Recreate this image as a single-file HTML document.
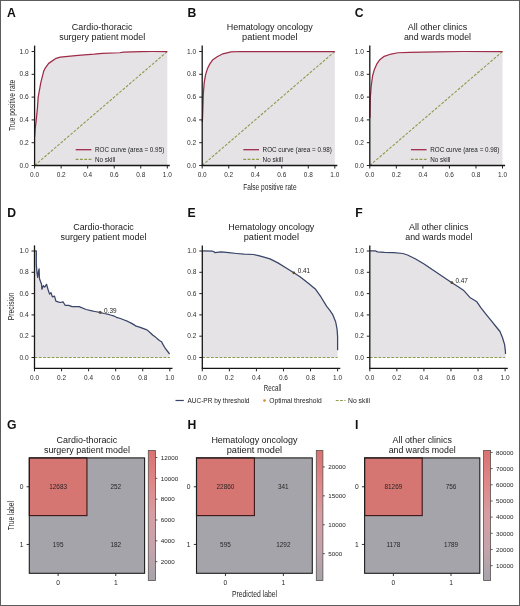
<!DOCTYPE html>
<html><head><meta charset="utf-8"><style>
html,body{margin:0;padding:0;background:#fff;}
svg{display:block;font-family:"Liberation Sans", sans-serif;will-change:transform;}
</style></head><body>
<svg width="520" height="606" viewBox="0 0 520 606">
<rect width="520" height="606" fill="#fff"/>
<rect x="0.5" y="0.5" width="519" height="605" fill="none" stroke="#5c5c5c" stroke-width="1"/>
<polyline points="34.60,165.50 34.60,154.10 34.60,137.00 35.13,129.02 36.01,122.29 37.39,108.61 38.18,97.10 40.80,82.62 43.70,71.11 45.40,67.80 48.67,63.36 56.10,58.34 60.21,57.09 72.95,55.83 81.05,55.15 94.32,54.24 102.28,53.44 119.53,52.75 123.51,52.18 140.76,51.73 152.70,51.50 167.30,51.50 167.30,165.50 34.60,165.50" fill="#e5e3e6" stroke="none" stroke-width="1.0" stroke-linejoin="round"/>
<line x1="34.60" y1="165.50" x2="167.30" y2="51.50" stroke="#8e9a4c" stroke-width="1.1" stroke-dasharray="2.8 1.5"/>
<polyline points="34.60,137.00 35.13,129.02 36.01,122.29 37.39,108.61 38.18,97.10 40.80,82.62 43.70,71.11 45.40,67.80 48.67,63.36 56.10,58.34 60.21,57.09 72.95,55.83 81.05,55.15 94.32,54.24 102.28,53.44 119.53,52.75 123.51,52.18 140.76,51.73 152.70,51.50 167.30,51.50" fill="none" stroke="#9e2b48" stroke-width="1.25" stroke-linejoin="round"/>
<line x1="34.60" y1="45.60" x2="34.60" y2="165.50" stroke="#161616" stroke-width="1.3"/>
<line x1="33.95" y1="165.50" x2="169.80" y2="165.50" stroke="#161616" stroke-width="1.3"/>
<line x1="34.60" y1="165.50" x2="34.60" y2="168.50" stroke="#222" stroke-width="1.0"/>
<text transform="translate(34.60 177.40) scale(0.9249 1)" x="0" y="0" font-size="7.0" text-anchor="middle" fill="#2e2e2e" font-weight="normal">0.0</text>
<line x1="61.14" y1="165.50" x2="61.14" y2="168.50" stroke="#222" stroke-width="1.0"/>
<text transform="translate(61.14 177.40) scale(0.9249 1)" x="0" y="0" font-size="7.0" text-anchor="middle" fill="#2e2e2e" font-weight="normal">0.2</text>
<line x1="87.68" y1="165.50" x2="87.68" y2="168.50" stroke="#222" stroke-width="1.0"/>
<text transform="translate(87.68 177.40) scale(0.9249 1)" x="0" y="0" font-size="7.0" text-anchor="middle" fill="#2e2e2e" font-weight="normal">0.4</text>
<line x1="114.22" y1="165.50" x2="114.22" y2="168.50" stroke="#222" stroke-width="1.0"/>
<text transform="translate(114.22 177.40) scale(0.9249 1)" x="0" y="0" font-size="7.0" text-anchor="middle" fill="#2e2e2e" font-weight="normal">0.6</text>
<line x1="140.76" y1="165.50" x2="140.76" y2="168.50" stroke="#222" stroke-width="1.0"/>
<text transform="translate(140.76 177.40) scale(0.9249 1)" x="0" y="0" font-size="7.0" text-anchor="middle" fill="#2e2e2e" font-weight="normal">0.8</text>
<line x1="167.30" y1="165.50" x2="167.30" y2="168.50" stroke="#222" stroke-width="1.0"/>
<text transform="translate(167.30 177.40) scale(0.9249 1)" x="0" y="0" font-size="7.0" text-anchor="middle" fill="#2e2e2e" font-weight="normal">1.0</text>
<line x1="31.60" y1="165.50" x2="34.60" y2="165.50" stroke="#222" stroke-width="1.0"/>
<text transform="translate(28.70 167.60) scale(0.9454 1)" x="0" y="0" font-size="7.0" text-anchor="end" fill="#2e2e2e" font-weight="normal">0.0</text>
<line x1="31.60" y1="142.70" x2="34.60" y2="142.70" stroke="#222" stroke-width="1.0"/>
<text transform="translate(28.70 144.80) scale(0.9454 1)" x="0" y="0" font-size="7.0" text-anchor="end" fill="#2e2e2e" font-weight="normal">0.2</text>
<line x1="31.60" y1="119.90" x2="34.60" y2="119.90" stroke="#222" stroke-width="1.0"/>
<text transform="translate(28.70 122.00) scale(0.9454 1)" x="0" y="0" font-size="7.0" text-anchor="end" fill="#2e2e2e" font-weight="normal">0.4</text>
<line x1="31.60" y1="97.10" x2="34.60" y2="97.10" stroke="#222" stroke-width="1.0"/>
<text transform="translate(28.70 99.20) scale(0.9454 1)" x="0" y="0" font-size="7.0" text-anchor="end" fill="#2e2e2e" font-weight="normal">0.6</text>
<line x1="31.60" y1="74.30" x2="34.60" y2="74.30" stroke="#222" stroke-width="1.0"/>
<text transform="translate(28.70 76.40) scale(0.9454 1)" x="0" y="0" font-size="7.0" text-anchor="end" fill="#2e2e2e" font-weight="normal">0.8</text>
<line x1="31.60" y1="51.50" x2="34.60" y2="51.50" stroke="#222" stroke-width="1.0"/>
<text transform="translate(28.70 53.60) scale(0.9454 1)" x="0" y="0" font-size="7.0" text-anchor="end" fill="#2e2e2e" font-weight="normal">1.0</text>
<text x="7.00" y="16.50" font-size="12.2" text-anchor="start" fill="#111" font-weight="bold">A</text>
<text transform="translate(102.20 30.20) scale(0.9854 1)" x="0" y="0" font-size="9.1" text-anchor="middle" fill="#181818" font-weight="normal">Cardio-thoracic</text>
<text transform="translate(102.20 40.10) scale(0.9862 1)" x="0" y="0" font-size="9.1" text-anchor="middle" fill="#181818" font-weight="normal">surgery patient model</text>
<line x1="75.70" y1="149.70" x2="91.40" y2="149.70" stroke="#9e2b48" stroke-width="1.3"/>
<line x1="75.70" y1="159.40" x2="91.40" y2="159.40" stroke="#8e9a4c" stroke-width="1.1" stroke-dasharray="2.8 1.5"/>
<text transform="translate(95.00 151.90) scale(1.0036 1)" x="0" y="0" font-size="6.3" text-anchor="start" fill="#222" font-weight="normal">ROC curve (area = 0.95)</text>
<text x="95.00" y="161.80" font-size="6.3" text-anchor="start" fill="#222" font-weight="normal">No skill</text>
<polyline points="202.20,165.50 202.20,131.30 202.33,122.18 202.73,112.72 203.30,94.25 204.20,82.62 205.59,74.64 207.40,68.83 209.71,64.15 212.50,60.05 217.18,56.74 222.89,53.78 230.97,51.96 241.05,51.50 334.80,51.50 334.80,165.50 202.20,165.50" fill="#e5e3e6" stroke="none" stroke-width="1.0" stroke-linejoin="round"/>
<line x1="202.20" y1="165.50" x2="334.80" y2="51.50" stroke="#8e9a4c" stroke-width="1.1" stroke-dasharray="2.8 1.5"/>
<polyline points="202.33,122.18 202.73,112.72 203.30,94.25 204.20,82.62 205.59,74.64 207.40,68.83 209.71,64.15 212.50,60.05 217.18,56.74 222.89,53.78 230.97,51.96 241.05,51.50 334.80,51.50" fill="none" stroke="#9e2b48" stroke-width="1.25" stroke-linejoin="round"/>
<line x1="202.20" y1="45.60" x2="202.20" y2="165.50" stroke="#161616" stroke-width="1.3"/>
<line x1="201.55" y1="165.50" x2="337.30" y2="165.50" stroke="#161616" stroke-width="1.3"/>
<line x1="202.20" y1="165.50" x2="202.20" y2="168.50" stroke="#222" stroke-width="1.0"/>
<text transform="translate(202.20 177.40) scale(0.9249 1)" x="0" y="0" font-size="7.0" text-anchor="middle" fill="#2e2e2e" font-weight="normal">0.0</text>
<line x1="228.72" y1="165.50" x2="228.72" y2="168.50" stroke="#222" stroke-width="1.0"/>
<text transform="translate(228.72 177.40) scale(0.9249 1)" x="0" y="0" font-size="7.0" text-anchor="middle" fill="#2e2e2e" font-weight="normal">0.2</text>
<line x1="255.24" y1="165.50" x2="255.24" y2="168.50" stroke="#222" stroke-width="1.0"/>
<text transform="translate(255.24 177.40) scale(0.9249 1)" x="0" y="0" font-size="7.0" text-anchor="middle" fill="#2e2e2e" font-weight="normal">0.4</text>
<line x1="281.76" y1="165.50" x2="281.76" y2="168.50" stroke="#222" stroke-width="1.0"/>
<text transform="translate(281.76 177.40) scale(0.9249 1)" x="0" y="0" font-size="7.0" text-anchor="middle" fill="#2e2e2e" font-weight="normal">0.6</text>
<line x1="308.28" y1="165.50" x2="308.28" y2="168.50" stroke="#222" stroke-width="1.0"/>
<text transform="translate(308.28 177.40) scale(0.9249 1)" x="0" y="0" font-size="7.0" text-anchor="middle" fill="#2e2e2e" font-weight="normal">0.8</text>
<line x1="334.80" y1="165.50" x2="334.80" y2="168.50" stroke="#222" stroke-width="1.0"/>
<text transform="translate(334.80 177.40) scale(0.9249 1)" x="0" y="0" font-size="7.0" text-anchor="middle" fill="#2e2e2e" font-weight="normal">1.0</text>
<line x1="199.20" y1="165.50" x2="202.20" y2="165.50" stroke="#222" stroke-width="1.0"/>
<text transform="translate(196.30 167.60) scale(0.9454 1)" x="0" y="0" font-size="7.0" text-anchor="end" fill="#2e2e2e" font-weight="normal">0.0</text>
<line x1="199.20" y1="142.70" x2="202.20" y2="142.70" stroke="#222" stroke-width="1.0"/>
<text transform="translate(196.30 144.80) scale(0.9454 1)" x="0" y="0" font-size="7.0" text-anchor="end" fill="#2e2e2e" font-weight="normal">0.2</text>
<line x1="199.20" y1="119.90" x2="202.20" y2="119.90" stroke="#222" stroke-width="1.0"/>
<text transform="translate(196.30 122.00) scale(0.9454 1)" x="0" y="0" font-size="7.0" text-anchor="end" fill="#2e2e2e" font-weight="normal">0.4</text>
<line x1="199.20" y1="97.10" x2="202.20" y2="97.10" stroke="#222" stroke-width="1.0"/>
<text transform="translate(196.30 99.20) scale(0.9454 1)" x="0" y="0" font-size="7.0" text-anchor="end" fill="#2e2e2e" font-weight="normal">0.6</text>
<line x1="199.20" y1="74.30" x2="202.20" y2="74.30" stroke="#222" stroke-width="1.0"/>
<text transform="translate(196.30 76.40) scale(0.9454 1)" x="0" y="0" font-size="7.0" text-anchor="end" fill="#2e2e2e" font-weight="normal">0.8</text>
<line x1="199.20" y1="51.50" x2="202.20" y2="51.50" stroke="#222" stroke-width="1.0"/>
<text transform="translate(196.30 53.60) scale(0.9454 1)" x="0" y="0" font-size="7.0" text-anchor="end" fill="#2e2e2e" font-weight="normal">1.0</text>
<text x="187.60" y="16.50" font-size="12.2" text-anchor="start" fill="#111" font-weight="bold">B</text>
<text transform="translate(269.75 30.20) scale(0.9850 1)" x="0" y="0" font-size="9.1" text-anchor="middle" fill="#181818" font-weight="normal">Hematology oncology</text>
<text transform="translate(269.75 40.10) scale(1.0140 1)" x="0" y="0" font-size="9.1" text-anchor="middle" fill="#181818" font-weight="normal">patient model</text>
<line x1="243.30" y1="149.70" x2="259.00" y2="149.70" stroke="#9e2b48" stroke-width="1.3"/>
<line x1="243.30" y1="159.40" x2="259.00" y2="159.40" stroke="#8e9a4c" stroke-width="1.1" stroke-dasharray="2.8 1.5"/>
<text transform="translate(262.60 151.90) scale(1.0036 1)" x="0" y="0" font-size="6.3" text-anchor="start" fill="#222" font-weight="normal">ROC curve (area = 0.98)</text>
<text x="262.60" y="161.80" font-size="6.3" text-anchor="start" fill="#222" font-weight="normal">No skill</text>
<polyline points="369.80,165.50 369.80,131.30 369.93,117.62 370.07,108.50 370.30,97.67 371.21,86.04 372.60,75.78 374.40,69.40 376.70,64.15 379.49,60.05 384.20,56.29 391.03,54.01 398.00,52.75 409.61,52.41 435.75,51.96 462.69,51.50 502.50,51.50 502.50,165.50 369.80,165.50" fill="#e5e3e6" stroke="none" stroke-width="1.0" stroke-linejoin="round"/>
<line x1="369.80" y1="165.50" x2="502.50" y2="51.50" stroke="#8e9a4c" stroke-width="1.1" stroke-dasharray="2.8 1.5"/>
<polyline points="369.93,117.62 370.07,108.50 370.30,97.67 371.21,86.04 372.60,75.78 374.40,69.40 376.70,64.15 379.49,60.05 384.20,56.29 391.03,54.01 398.00,52.75 409.61,52.41 435.75,51.96 462.69,51.50 502.50,51.50" fill="none" stroke="#9e2b48" stroke-width="1.25" stroke-linejoin="round"/>
<line x1="369.80" y1="45.60" x2="369.80" y2="165.50" stroke="#161616" stroke-width="1.3"/>
<line x1="369.15" y1="165.50" x2="505.10" y2="165.50" stroke="#161616" stroke-width="1.3"/>
<line x1="369.80" y1="165.50" x2="369.80" y2="168.50" stroke="#222" stroke-width="1.0"/>
<text transform="translate(369.80 177.40) scale(0.9249 1)" x="0" y="0" font-size="7.0" text-anchor="middle" fill="#2e2e2e" font-weight="normal">0.0</text>
<line x1="396.34" y1="165.50" x2="396.34" y2="168.50" stroke="#222" stroke-width="1.0"/>
<text transform="translate(396.34 177.40) scale(0.9249 1)" x="0" y="0" font-size="7.0" text-anchor="middle" fill="#2e2e2e" font-weight="normal">0.2</text>
<line x1="422.88" y1="165.50" x2="422.88" y2="168.50" stroke="#222" stroke-width="1.0"/>
<text transform="translate(422.88 177.40) scale(0.9249 1)" x="0" y="0" font-size="7.0" text-anchor="middle" fill="#2e2e2e" font-weight="normal">0.4</text>
<line x1="449.42" y1="165.50" x2="449.42" y2="168.50" stroke="#222" stroke-width="1.0"/>
<text transform="translate(449.42 177.40) scale(0.9249 1)" x="0" y="0" font-size="7.0" text-anchor="middle" fill="#2e2e2e" font-weight="normal">0.6</text>
<line x1="475.96" y1="165.50" x2="475.96" y2="168.50" stroke="#222" stroke-width="1.0"/>
<text transform="translate(475.96 177.40) scale(0.9249 1)" x="0" y="0" font-size="7.0" text-anchor="middle" fill="#2e2e2e" font-weight="normal">0.8</text>
<line x1="502.50" y1="165.50" x2="502.50" y2="168.50" stroke="#222" stroke-width="1.0"/>
<text transform="translate(502.50 177.40) scale(0.9249 1)" x="0" y="0" font-size="7.0" text-anchor="middle" fill="#2e2e2e" font-weight="normal">1.0</text>
<line x1="366.80" y1="165.50" x2="369.80" y2="165.50" stroke="#222" stroke-width="1.0"/>
<text transform="translate(363.90 167.60) scale(0.9454 1)" x="0" y="0" font-size="7.0" text-anchor="end" fill="#2e2e2e" font-weight="normal">0.0</text>
<line x1="366.80" y1="142.70" x2="369.80" y2="142.70" stroke="#222" stroke-width="1.0"/>
<text transform="translate(363.90 144.80) scale(0.9454 1)" x="0" y="0" font-size="7.0" text-anchor="end" fill="#2e2e2e" font-weight="normal">0.2</text>
<line x1="366.80" y1="119.90" x2="369.80" y2="119.90" stroke="#222" stroke-width="1.0"/>
<text transform="translate(363.90 122.00) scale(0.9454 1)" x="0" y="0" font-size="7.0" text-anchor="end" fill="#2e2e2e" font-weight="normal">0.4</text>
<line x1="366.80" y1="97.10" x2="369.80" y2="97.10" stroke="#222" stroke-width="1.0"/>
<text transform="translate(363.90 99.20) scale(0.9454 1)" x="0" y="0" font-size="7.0" text-anchor="end" fill="#2e2e2e" font-weight="normal">0.6</text>
<line x1="366.80" y1="74.30" x2="369.80" y2="74.30" stroke="#222" stroke-width="1.0"/>
<text transform="translate(363.90 76.40) scale(0.9454 1)" x="0" y="0" font-size="7.0" text-anchor="end" fill="#2e2e2e" font-weight="normal">0.8</text>
<line x1="366.80" y1="51.50" x2="369.80" y2="51.50" stroke="#222" stroke-width="1.0"/>
<text transform="translate(363.90 53.60) scale(0.9454 1)" x="0" y="0" font-size="7.0" text-anchor="end" fill="#2e2e2e" font-weight="normal">1.0</text>
<text x="354.80" y="16.50" font-size="12.2" text-anchor="start" fill="#111" font-weight="bold">C</text>
<text transform="translate(437.45 30.20) scale(0.9788 1)" x="0" y="0" font-size="9.1" text-anchor="middle" fill="#181818" font-weight="normal">All other clinics</text>
<text transform="translate(437.45 40.10) scale(0.9697 1)" x="0" y="0" font-size="9.1" text-anchor="middle" fill="#181818" font-weight="normal">and wards model</text>
<line x1="410.90" y1="149.70" x2="426.60" y2="149.70" stroke="#9e2b48" stroke-width="1.3"/>
<line x1="410.90" y1="159.40" x2="426.60" y2="159.40" stroke="#8e9a4c" stroke-width="1.1" stroke-dasharray="2.8 1.5"/>
<text transform="translate(430.20 151.90) scale(1.0036 1)" x="0" y="0" font-size="6.3" text-anchor="start" fill="#222" font-weight="normal">ROC curve (area = 0.98)</text>
<text x="430.20" y="161.80" font-size="6.3" text-anchor="start" fill="#222" font-weight="normal">No skill</text>
<text x="0.00" y="0.00" font-size="8.8" text-anchor="middle" fill="#262626" font-weight="normal" transform="translate(14.6 105.4) rotate(-90) scale(0.7567 1)">True positive rate</text>
<text transform="translate(269.90 189.50) scale(0.7492 1)" x="0" y="0" font-size="8.8" text-anchor="middle" fill="#262626" font-weight="normal">False positive rate</text>
<polyline points="34.60,251.00 35.30,250.90 36.30,250.90 36.30,264.60 37.00,273.00 37.70,277.30 38.40,271.60 39.10,268.80 39.50,278.70 40.50,281.50 41.50,284.30 41.90,289.20 43.30,285.70 44.70,287.10 46.50,284.30 48.20,290.00 49.60,294.10 51.00,292.70 52.40,296.90 54.50,296.20 55.90,301.10 58.00,301.80 60.20,302.50 63.00,301.80 65.10,305.30 68.60,305.30 72.10,306.70 79.10,306.70 86.10,309.50 93.10,311.20 95.00,311.50 99.60,312.30 104.20,313.50 107.30,314.20 110.40,315.00 113.50,315.80 116.50,317.30 120.40,318.50 124.20,320.00 127.30,321.20 131.20,323.10 135.00,325.40 136.10,326.20 139.50,327.10 145.60,329.30 147.30,330.10 150.80,333.20 152.90,335.30 155.50,337.10 159.40,340.50 161.60,341.80 162.90,344.40 165.50,348.70 169.60,354.00 169.60,357.50 34.50,357.50" fill="#e5e3e6" stroke="none" stroke-width="1.0" stroke-linejoin="round"/>
<line x1="34.50" y1="357.50" x2="169.80" y2="357.50" stroke="#8e9a4c" stroke-width="1.1" stroke-dasharray="2.8 1.5"/>
<polyline points="34.60,251.00 35.30,250.90 36.30,250.90 36.30,264.60 37.00,273.00 37.70,277.30 38.40,271.60 39.10,268.80 39.50,278.70 40.50,281.50 41.50,284.30 41.90,289.20 43.30,285.70 44.70,287.10 46.50,284.30 48.20,290.00 49.60,294.10 51.00,292.70 52.40,296.90 54.50,296.20 55.90,301.10 58.00,301.80 60.20,302.50 63.00,301.80 65.10,305.30 68.60,305.30 72.10,306.70 79.10,306.70 86.10,309.50 93.10,311.20 95.00,311.50 99.60,312.30 104.20,313.50 107.30,314.20 110.40,315.00 113.50,315.80 116.50,317.30 120.40,318.50 124.20,320.00 127.30,321.20 131.20,323.10 135.00,325.40 136.10,326.20 139.50,327.10 145.60,329.30 147.30,330.10 150.80,333.20 152.90,335.30 155.50,337.10 159.40,340.50 161.60,341.80 162.90,344.40 165.50,348.70 169.60,354.00" fill="none" stroke="#384468" stroke-width="1.25" stroke-linejoin="round"/>
<circle cx="100.2" cy="312.5" r="1.4" fill="#5a4a32"/>
<text x="104.10" y="312.70" font-size="6.4" text-anchor="start" fill="#222" font-weight="normal">0.39</text>
<line x1="34.50" y1="245.40" x2="34.50" y2="368.30" stroke="#161616" stroke-width="1.3"/>
<line x1="33.85" y1="368.30" x2="172.50" y2="368.30" stroke="#161616" stroke-width="1.3"/>
<line x1="34.50" y1="368.30" x2="34.50" y2="371.30" stroke="#222" stroke-width="1.0"/>
<text transform="translate(34.50 379.80) scale(0.9249 1)" x="0" y="0" font-size="7.0" text-anchor="middle" fill="#2e2e2e" font-weight="normal">0.0</text>
<line x1="61.56" y1="368.30" x2="61.56" y2="371.30" stroke="#222" stroke-width="1.0"/>
<text transform="translate(61.56 379.80) scale(0.9249 1)" x="0" y="0" font-size="7.0" text-anchor="middle" fill="#2e2e2e" font-weight="normal">0.2</text>
<line x1="88.62" y1="368.30" x2="88.62" y2="371.30" stroke="#222" stroke-width="1.0"/>
<text transform="translate(88.62 379.80) scale(0.9249 1)" x="0" y="0" font-size="7.0" text-anchor="middle" fill="#2e2e2e" font-weight="normal">0.4</text>
<line x1="115.68" y1="368.30" x2="115.68" y2="371.30" stroke="#222" stroke-width="1.0"/>
<text transform="translate(115.68 379.80) scale(0.9249 1)" x="0" y="0" font-size="7.0" text-anchor="middle" fill="#2e2e2e" font-weight="normal">0.6</text>
<line x1="142.74" y1="368.30" x2="142.74" y2="371.30" stroke="#222" stroke-width="1.0"/>
<text transform="translate(142.74 379.80) scale(0.9249 1)" x="0" y="0" font-size="7.0" text-anchor="middle" fill="#2e2e2e" font-weight="normal">0.8</text>
<line x1="169.80" y1="368.30" x2="169.80" y2="371.30" stroke="#222" stroke-width="1.0"/>
<text transform="translate(169.80 379.80) scale(0.9249 1)" x="0" y="0" font-size="7.0" text-anchor="middle" fill="#2e2e2e" font-weight="normal">1.0</text>
<line x1="31.50" y1="357.50" x2="34.50" y2="357.50" stroke="#222" stroke-width="1.0"/>
<text transform="translate(28.60 359.60) scale(0.9454 1)" x="0" y="0" font-size="7.0" text-anchor="end" fill="#2e2e2e" font-weight="normal">0.0</text>
<line x1="31.50" y1="336.20" x2="34.50" y2="336.20" stroke="#222" stroke-width="1.0"/>
<text transform="translate(28.60 338.30) scale(0.9454 1)" x="0" y="0" font-size="7.0" text-anchor="end" fill="#2e2e2e" font-weight="normal">0.2</text>
<line x1="31.50" y1="314.90" x2="34.50" y2="314.90" stroke="#222" stroke-width="1.0"/>
<text transform="translate(28.60 317.00) scale(0.9454 1)" x="0" y="0" font-size="7.0" text-anchor="end" fill="#2e2e2e" font-weight="normal">0.4</text>
<line x1="31.50" y1="293.60" x2="34.50" y2="293.60" stroke="#222" stroke-width="1.0"/>
<text transform="translate(28.60 295.70) scale(0.9454 1)" x="0" y="0" font-size="7.0" text-anchor="end" fill="#2e2e2e" font-weight="normal">0.6</text>
<line x1="31.50" y1="272.30" x2="34.50" y2="272.30" stroke="#222" stroke-width="1.0"/>
<text transform="translate(28.60 274.40) scale(0.9454 1)" x="0" y="0" font-size="7.0" text-anchor="end" fill="#2e2e2e" font-weight="normal">0.8</text>
<line x1="31.50" y1="251.00" x2="34.50" y2="251.00" stroke="#222" stroke-width="1.0"/>
<text transform="translate(28.60 253.10) scale(0.9454 1)" x="0" y="0" font-size="7.0" text-anchor="end" fill="#2e2e2e" font-weight="normal">1.0</text>
<text x="7.20" y="216.50" font-size="12.2" text-anchor="start" fill="#111" font-weight="bold">D</text>
<text transform="translate(103.50 230.40) scale(0.9854 1)" x="0" y="0" font-size="9.1" text-anchor="middle" fill="#181818" font-weight="normal">Cardio-thoracic</text>
<text transform="translate(103.50 240.40) scale(0.9862 1)" x="0" y="0" font-size="9.1" text-anchor="middle" fill="#181818" font-weight="normal">surgery patient model</text>
<polyline points="202.30,250.80 212.60,251.20 214.20,251.90 214.90,252.70 221.10,251.90 228.80,252.70 236.50,253.50 244.20,254.20 253.40,254.50 259.50,255.80 265.70,257.60 270.00,258.90 277.90,262.90 285.80,267.80 293.80,272.80 300.00,276.70 307.40,282.60 315.60,289.30 320.80,296.70 326.70,306.40 329.70,310.10 332.70,314.60 335.70,322.00 337.10,329.40 337.60,336.90 337.60,350.20 337.60,357.50 202.30,357.50" fill="#e5e3e6" stroke="none" stroke-width="1.0" stroke-linejoin="round"/>
<line x1="202.30" y1="357.50" x2="337.60" y2="357.50" stroke="#8e9a4c" stroke-width="1.1" stroke-dasharray="2.8 1.5"/>
<polyline points="202.30,250.80 212.60,251.20 214.20,251.90 214.90,252.70 221.10,251.90 228.80,252.70 236.50,253.50 244.20,254.20 253.40,254.50 259.50,255.80 265.70,257.60 270.00,258.90 277.90,262.90 285.80,267.80 293.80,272.80 300.00,276.70 307.40,282.60 315.60,289.30 320.80,296.70 326.70,306.40 329.70,310.10 332.70,314.60 335.70,322.00 337.10,329.40 337.60,336.90 337.60,350.20" fill="none" stroke="#384468" stroke-width="1.25" stroke-linejoin="round"/>
<circle cx="293.8" cy="272.8" r="1.4" fill="#5a4a32"/>
<text x="297.70" y="273.10" font-size="6.4" text-anchor="start" fill="#222" font-weight="normal">0.41</text>
<line x1="202.30" y1="245.40" x2="202.30" y2="368.30" stroke="#161616" stroke-width="1.3"/>
<line x1="201.65" y1="368.30" x2="340.30" y2="368.30" stroke="#161616" stroke-width="1.3"/>
<line x1="202.30" y1="368.30" x2="202.30" y2="371.30" stroke="#222" stroke-width="1.0"/>
<text transform="translate(202.30 379.80) scale(0.9249 1)" x="0" y="0" font-size="7.0" text-anchor="middle" fill="#2e2e2e" font-weight="normal">0.0</text>
<line x1="229.36" y1="368.30" x2="229.36" y2="371.30" stroke="#222" stroke-width="1.0"/>
<text transform="translate(229.36 379.80) scale(0.9249 1)" x="0" y="0" font-size="7.0" text-anchor="middle" fill="#2e2e2e" font-weight="normal">0.2</text>
<line x1="256.42" y1="368.30" x2="256.42" y2="371.30" stroke="#222" stroke-width="1.0"/>
<text transform="translate(256.42 379.80) scale(0.9249 1)" x="0" y="0" font-size="7.0" text-anchor="middle" fill="#2e2e2e" font-weight="normal">0.4</text>
<line x1="283.48" y1="368.30" x2="283.48" y2="371.30" stroke="#222" stroke-width="1.0"/>
<text transform="translate(283.48 379.80) scale(0.9249 1)" x="0" y="0" font-size="7.0" text-anchor="middle" fill="#2e2e2e" font-weight="normal">0.6</text>
<line x1="310.54" y1="368.30" x2="310.54" y2="371.30" stroke="#222" stroke-width="1.0"/>
<text transform="translate(310.54 379.80) scale(0.9249 1)" x="0" y="0" font-size="7.0" text-anchor="middle" fill="#2e2e2e" font-weight="normal">0.8</text>
<line x1="337.60" y1="368.30" x2="337.60" y2="371.30" stroke="#222" stroke-width="1.0"/>
<text transform="translate(337.60 379.80) scale(0.9249 1)" x="0" y="0" font-size="7.0" text-anchor="middle" fill="#2e2e2e" font-weight="normal">1.0</text>
<line x1="199.30" y1="357.50" x2="202.30" y2="357.50" stroke="#222" stroke-width="1.0"/>
<text transform="translate(196.40 359.60) scale(0.9454 1)" x="0" y="0" font-size="7.0" text-anchor="end" fill="#2e2e2e" font-weight="normal">0.0</text>
<line x1="199.30" y1="336.20" x2="202.30" y2="336.20" stroke="#222" stroke-width="1.0"/>
<text transform="translate(196.40 338.30) scale(0.9454 1)" x="0" y="0" font-size="7.0" text-anchor="end" fill="#2e2e2e" font-weight="normal">0.2</text>
<line x1="199.30" y1="314.90" x2="202.30" y2="314.90" stroke="#222" stroke-width="1.0"/>
<text transform="translate(196.40 317.00) scale(0.9454 1)" x="0" y="0" font-size="7.0" text-anchor="end" fill="#2e2e2e" font-weight="normal">0.4</text>
<line x1="199.30" y1="293.60" x2="202.30" y2="293.60" stroke="#222" stroke-width="1.0"/>
<text transform="translate(196.40 295.70) scale(0.9454 1)" x="0" y="0" font-size="7.0" text-anchor="end" fill="#2e2e2e" font-weight="normal">0.6</text>
<line x1="199.30" y1="272.30" x2="202.30" y2="272.30" stroke="#222" stroke-width="1.0"/>
<text transform="translate(196.40 274.40) scale(0.9454 1)" x="0" y="0" font-size="7.0" text-anchor="end" fill="#2e2e2e" font-weight="normal">0.8</text>
<line x1="199.30" y1="251.00" x2="202.30" y2="251.00" stroke="#222" stroke-width="1.0"/>
<text transform="translate(196.40 253.10) scale(0.9454 1)" x="0" y="0" font-size="7.0" text-anchor="end" fill="#2e2e2e" font-weight="normal">1.0</text>
<text x="187.60" y="216.50" font-size="12.2" text-anchor="start" fill="#111" font-weight="bold">E</text>
<text transform="translate(271.30 230.40) scale(0.9850 1)" x="0" y="0" font-size="9.1" text-anchor="middle" fill="#181818" font-weight="normal">Hematology oncology</text>
<text transform="translate(271.30 240.40) scale(1.0140 1)" x="0" y="0" font-size="9.1" text-anchor="middle" fill="#181818" font-weight="normal">patient model</text>
<polyline points="369.80,250.80 375.20,250.80 377.50,251.90 384.50,252.40 393.70,252.70 402.90,253.50 407.50,255.00 415.20,258.80 424.50,264.20 432.20,269.60 440.00,274.80 445.90,278.70 451.90,282.70 457.80,286.60 463.80,290.60 465.00,291.90 470.30,297.80 476.90,301.80 480.80,307.70 486.10,314.30 491.40,320.90 496.70,327.50 500.00,331.50 502.60,338.00 504.60,344.60 505.40,351.20 505.50,354.00 505.50,357.50 369.80,357.50" fill="#e5e3e6" stroke="none" stroke-width="1.0" stroke-linejoin="round"/>
<line x1="369.80" y1="357.50" x2="505.10" y2="357.50" stroke="#8e9a4c" stroke-width="1.1" stroke-dasharray="2.8 1.5"/>
<polyline points="369.80,250.80 375.20,250.80 377.50,251.90 384.50,252.40 393.70,252.70 402.90,253.50 407.50,255.00 415.20,258.80 424.50,264.20 432.20,269.60 440.00,274.80 445.90,278.70 451.90,282.70 457.80,286.60 463.80,290.60 465.00,291.90 470.30,297.80 476.90,301.80 480.80,307.70 486.10,314.30 491.40,320.90 496.70,327.50 500.00,331.50 502.60,338.00 504.60,344.60 505.40,351.20 505.50,354.00" fill="none" stroke="#384468" stroke-width="1.25" stroke-linejoin="round"/>
<circle cx="451.9" cy="282.7" r="1.4" fill="#5a4a32"/>
<text x="455.40" y="282.60" font-size="6.4" text-anchor="start" fill="#222" font-weight="normal">0.47</text>
<line x1="369.80" y1="245.40" x2="369.80" y2="368.30" stroke="#161616" stroke-width="1.3"/>
<line x1="369.15" y1="368.30" x2="507.80" y2="368.30" stroke="#161616" stroke-width="1.3"/>
<line x1="369.80" y1="368.30" x2="369.80" y2="371.30" stroke="#222" stroke-width="1.0"/>
<text transform="translate(369.80 379.80) scale(0.9249 1)" x="0" y="0" font-size="7.0" text-anchor="middle" fill="#2e2e2e" font-weight="normal">0.0</text>
<line x1="396.86" y1="368.30" x2="396.86" y2="371.30" stroke="#222" stroke-width="1.0"/>
<text transform="translate(396.86 379.80) scale(0.9249 1)" x="0" y="0" font-size="7.0" text-anchor="middle" fill="#2e2e2e" font-weight="normal">0.2</text>
<line x1="423.92" y1="368.30" x2="423.92" y2="371.30" stroke="#222" stroke-width="1.0"/>
<text transform="translate(423.92 379.80) scale(0.9249 1)" x="0" y="0" font-size="7.0" text-anchor="middle" fill="#2e2e2e" font-weight="normal">0.4</text>
<line x1="450.98" y1="368.30" x2="450.98" y2="371.30" stroke="#222" stroke-width="1.0"/>
<text transform="translate(450.98 379.80) scale(0.9249 1)" x="0" y="0" font-size="7.0" text-anchor="middle" fill="#2e2e2e" font-weight="normal">0.6</text>
<line x1="478.04" y1="368.30" x2="478.04" y2="371.30" stroke="#222" stroke-width="1.0"/>
<text transform="translate(478.04 379.80) scale(0.9249 1)" x="0" y="0" font-size="7.0" text-anchor="middle" fill="#2e2e2e" font-weight="normal">0.8</text>
<line x1="505.10" y1="368.30" x2="505.10" y2="371.30" stroke="#222" stroke-width="1.0"/>
<text transform="translate(505.10 379.80) scale(0.9249 1)" x="0" y="0" font-size="7.0" text-anchor="middle" fill="#2e2e2e" font-weight="normal">1.0</text>
<line x1="366.80" y1="357.50" x2="369.80" y2="357.50" stroke="#222" stroke-width="1.0"/>
<text transform="translate(363.90 359.60) scale(0.9454 1)" x="0" y="0" font-size="7.0" text-anchor="end" fill="#2e2e2e" font-weight="normal">0.0</text>
<line x1="366.80" y1="336.20" x2="369.80" y2="336.20" stroke="#222" stroke-width="1.0"/>
<text transform="translate(363.90 338.30) scale(0.9454 1)" x="0" y="0" font-size="7.0" text-anchor="end" fill="#2e2e2e" font-weight="normal">0.2</text>
<line x1="366.80" y1="314.90" x2="369.80" y2="314.90" stroke="#222" stroke-width="1.0"/>
<text transform="translate(363.90 317.00) scale(0.9454 1)" x="0" y="0" font-size="7.0" text-anchor="end" fill="#2e2e2e" font-weight="normal">0.4</text>
<line x1="366.80" y1="293.60" x2="369.80" y2="293.60" stroke="#222" stroke-width="1.0"/>
<text transform="translate(363.90 295.70) scale(0.9454 1)" x="0" y="0" font-size="7.0" text-anchor="end" fill="#2e2e2e" font-weight="normal">0.6</text>
<line x1="366.80" y1="272.30" x2="369.80" y2="272.30" stroke="#222" stroke-width="1.0"/>
<text transform="translate(363.90 274.40) scale(0.9454 1)" x="0" y="0" font-size="7.0" text-anchor="end" fill="#2e2e2e" font-weight="normal">0.8</text>
<line x1="366.80" y1="251.00" x2="369.80" y2="251.00" stroke="#222" stroke-width="1.0"/>
<text transform="translate(363.90 253.10) scale(0.9454 1)" x="0" y="0" font-size="7.0" text-anchor="end" fill="#2e2e2e" font-weight="normal">1.0</text>
<text x="355.30" y="216.50" font-size="12.2" text-anchor="start" fill="#111" font-weight="bold">F</text>
<text transform="translate(438.80 230.40) scale(0.9788 1)" x="0" y="0" font-size="9.1" text-anchor="middle" fill="#181818" font-weight="normal">All other clinics</text>
<text transform="translate(438.80 240.40) scale(0.9697 1)" x="0" y="0" font-size="9.1" text-anchor="middle" fill="#181818" font-weight="normal">and wards model</text>
<text x="0.00" y="0.00" font-size="8.8" text-anchor="middle" fill="#262626" font-weight="normal" transform="translate(14.4 306.3) rotate(-90) scale(0.7681 1)">Precision</text>
<text transform="translate(272.45 391.40) scale(0.7156 1)" x="0" y="0" font-size="8.8" text-anchor="middle" fill="#262626" font-weight="normal">Recall</text>
<line x1="175.50" y1="400.50" x2="183.80" y2="400.50" stroke="#384468" stroke-width="1.2"/>
<text transform="translate(187.50 402.80) scale(0.9978 1)" x="0" y="0" font-size="6.5" text-anchor="start" fill="#222" font-weight="normal">AUC-PR by threshold</text>
<circle cx="264.5" cy="400.5" r="1.3" fill="#d08a30"/>
<text transform="translate(269.20 402.80) scale(1.0306 1)" x="0" y="0" font-size="6.5" text-anchor="start" fill="#222" font-weight="normal">Optimal threshold</text>
<line x1="335.80" y1="400.50" x2="345.50" y2="400.50" stroke="#8e9a4c" stroke-width="1.1" stroke-dasharray="2.8 1.5"/>
<text transform="translate(348.00 402.80) scale(1.0502 1)" x="0" y="0" font-size="6.5" text-anchor="start" fill="#222" font-weight="normal">No skill</text>
<defs><linearGradient id="cb" x1="0" y1="1" x2="0" y2="0"><stop offset="0.0" stop-color="#a5a4aa"/><stop offset="0.25" stop-color="#c6a3ac"/><stop offset="0.5" stop-color="#d69ea3"/><stop offset="0.75" stop-color="#e08788"/><stop offset="1.0" stop-color="#da7270"/></linearGradient></defs>
<rect x="29.30" y="457.90" width="115.30" height="115.40" fill="#a5a4aa"/>
<rect x="29.30" y="457.90" width="57.65" height="57.70" fill="#d67672"/>
<rect x="29.30" y="457.90" width="57.65" height="57.70" fill="none" stroke="#3a1518" stroke-width="1.1"/>
<rect x="29.30" y="457.90" width="115.30" height="115.40" fill="none" stroke="#1e1e1e" stroke-width="1.1"/>
<text x="58.12" y="489.05" font-size="6.4" text-anchor="middle" fill="#2a2424" font-weight="normal">12683</text>
<text x="115.77" y="489.05" font-size="6.4" text-anchor="middle" fill="#2a2424" font-weight="normal">252</text>
<text x="58.12" y="546.75" font-size="6.4" text-anchor="middle" fill="#2a2424" font-weight="normal">195</text>
<text x="115.77" y="546.75" font-size="6.4" text-anchor="middle" fill="#2a2424" font-weight="normal">182</text>
<line x1="58.12" y1="573.30" x2="58.12" y2="576.00" stroke="#1e1e1e" stroke-width="0.9"/>
<text x="58.12" y="585.10" font-size="6.7" text-anchor="middle" fill="#262626" font-weight="normal">0</text>
<line x1="26.60" y1="486.75" x2="29.30" y2="486.75" stroke="#1e1e1e" stroke-width="0.9"/>
<text x="23.40" y="489.15" font-size="6.7" text-anchor="end" fill="#262626" font-weight="normal">0</text>
<line x1="115.77" y1="573.30" x2="115.77" y2="576.00" stroke="#1e1e1e" stroke-width="0.9"/>
<text x="115.77" y="585.10" font-size="6.7" text-anchor="middle" fill="#262626" font-weight="normal">1</text>
<line x1="26.60" y1="544.45" x2="29.30" y2="544.45" stroke="#1e1e1e" stroke-width="0.9"/>
<text x="23.40" y="546.85" font-size="6.7" text-anchor="end" fill="#262626" font-weight="normal">1</text>
<rect x="148.30" y="450.40" width="7.10" height="130.20" fill="url(#cb)" stroke="#585050" stroke-width="0.8"/>
<line x1="155.40" y1="561.67" x2="157.40" y2="561.67" stroke="#333" stroke-width="0.8"/>
<text x="160.80" y="563.97" font-size="6.25" text-anchor="start" fill="#222" font-weight="normal">2000</text>
<line x1="155.40" y1="540.83" x2="157.40" y2="540.83" stroke="#333" stroke-width="0.8"/>
<text x="160.80" y="543.13" font-size="6.25" text-anchor="start" fill="#222" font-weight="normal">4000</text>
<line x1="155.40" y1="520.00" x2="157.40" y2="520.00" stroke="#333" stroke-width="0.8"/>
<text x="160.80" y="522.30" font-size="6.25" text-anchor="start" fill="#222" font-weight="normal">6000</text>
<line x1="155.40" y1="499.17" x2="157.40" y2="499.17" stroke="#333" stroke-width="0.8"/>
<text x="160.80" y="501.47" font-size="6.25" text-anchor="start" fill="#222" font-weight="normal">8000</text>
<line x1="155.40" y1="478.34" x2="157.40" y2="478.34" stroke="#333" stroke-width="0.8"/>
<text x="160.80" y="480.64" font-size="6.25" text-anchor="start" fill="#222" font-weight="normal">10000</text>
<line x1="155.40" y1="457.51" x2="157.40" y2="457.51" stroke="#333" stroke-width="0.8"/>
<text x="160.80" y="459.81" font-size="6.25" text-anchor="start" fill="#222" font-weight="normal">12000</text>
<text x="7.00" y="428.80" font-size="12.2" text-anchor="start" fill="#111" font-weight="bold">G</text>
<text transform="translate(86.95 443.00) scale(0.9854 1)" x="0" y="0" font-size="9.1" text-anchor="middle" fill="#181818" font-weight="normal">Cardio-thoracic</text>
<text transform="translate(86.95 453.00) scale(0.9862 1)" x="0" y="0" font-size="9.1" text-anchor="middle" fill="#181818" font-weight="normal">surgery patient model</text>
<rect x="196.50" y="457.90" width="115.80" height="115.40" fill="#a5a4aa"/>
<rect x="196.50" y="457.90" width="57.90" height="57.70" fill="#d67672"/>
<rect x="196.50" y="457.90" width="57.90" height="57.70" fill="none" stroke="#3a1518" stroke-width="1.1"/>
<rect x="196.50" y="457.90" width="115.80" height="115.40" fill="none" stroke="#1e1e1e" stroke-width="1.1"/>
<text x="225.45" y="489.05" font-size="6.4" text-anchor="middle" fill="#2a2424" font-weight="normal">22860</text>
<text x="283.35" y="489.05" font-size="6.4" text-anchor="middle" fill="#2a2424" font-weight="normal">341</text>
<text x="225.45" y="546.75" font-size="6.4" text-anchor="middle" fill="#2a2424" font-weight="normal">595</text>
<text x="283.35" y="546.75" font-size="6.4" text-anchor="middle" fill="#2a2424" font-weight="normal">1292</text>
<line x1="225.45" y1="573.30" x2="225.45" y2="576.00" stroke="#1e1e1e" stroke-width="0.9"/>
<text x="225.45" y="585.10" font-size="6.7" text-anchor="middle" fill="#262626" font-weight="normal">0</text>
<line x1="193.80" y1="486.75" x2="196.50" y2="486.75" stroke="#1e1e1e" stroke-width="0.9"/>
<text x="190.60" y="489.15" font-size="6.7" text-anchor="end" fill="#262626" font-weight="normal">0</text>
<line x1="283.35" y1="573.30" x2="283.35" y2="576.00" stroke="#1e1e1e" stroke-width="0.9"/>
<text x="283.35" y="585.10" font-size="6.7" text-anchor="middle" fill="#262626" font-weight="normal">1</text>
<line x1="193.80" y1="544.45" x2="196.50" y2="544.45" stroke="#1e1e1e" stroke-width="0.9"/>
<text x="190.60" y="546.85" font-size="6.7" text-anchor="end" fill="#262626" font-weight="normal">1</text>
<rect x="316.30" y="450.40" width="6.60" height="130.20" fill="url(#cb)" stroke="#585050" stroke-width="0.8"/>
<line x1="322.90" y1="553.66" x2="324.90" y2="553.66" stroke="#333" stroke-width="0.8"/>
<text x="328.30" y="555.96" font-size="6.25" text-anchor="start" fill="#222" font-weight="normal">5000</text>
<line x1="322.90" y1="524.75" x2="324.90" y2="524.75" stroke="#333" stroke-width="0.8"/>
<text x="328.30" y="527.05" font-size="6.25" text-anchor="start" fill="#222" font-weight="normal">10000</text>
<line x1="322.90" y1="495.84" x2="324.90" y2="495.84" stroke="#333" stroke-width="0.8"/>
<text x="328.30" y="498.14" font-size="6.25" text-anchor="start" fill="#222" font-weight="normal">15000</text>
<line x1="322.90" y1="466.94" x2="324.90" y2="466.94" stroke="#333" stroke-width="0.8"/>
<text x="328.30" y="469.24" font-size="6.25" text-anchor="start" fill="#222" font-weight="normal">20000</text>
<text x="187.60" y="428.80" font-size="12.2" text-anchor="start" fill="#111" font-weight="bold">H</text>
<text transform="translate(254.40 443.00) scale(0.9850 1)" x="0" y="0" font-size="9.1" text-anchor="middle" fill="#181818" font-weight="normal">Hematology oncology</text>
<text transform="translate(254.40 453.00) scale(1.0140 1)" x="0" y="0" font-size="9.1" text-anchor="middle" fill="#181818" font-weight="normal">patient model</text>
<rect x="364.60" y="457.90" width="115.20" height="115.40" fill="#a5a4aa"/>
<rect x="364.60" y="457.90" width="57.60" height="57.70" fill="#d67672"/>
<rect x="364.60" y="457.90" width="57.60" height="57.70" fill="none" stroke="#3a1518" stroke-width="1.1"/>
<rect x="364.60" y="457.90" width="115.20" height="115.40" fill="none" stroke="#1e1e1e" stroke-width="1.1"/>
<text x="393.40" y="489.05" font-size="6.4" text-anchor="middle" fill="#2a2424" font-weight="normal">81269</text>
<text x="451.00" y="489.05" font-size="6.4" text-anchor="middle" fill="#2a2424" font-weight="normal">756</text>
<text x="393.40" y="546.75" font-size="6.4" text-anchor="middle" fill="#2a2424" font-weight="normal">1178</text>
<text x="451.00" y="546.75" font-size="6.4" text-anchor="middle" fill="#2a2424" font-weight="normal">1789</text>
<line x1="393.40" y1="573.30" x2="393.40" y2="576.00" stroke="#1e1e1e" stroke-width="0.9"/>
<text x="393.40" y="585.10" font-size="6.7" text-anchor="middle" fill="#262626" font-weight="normal">0</text>
<line x1="361.90" y1="486.75" x2="364.60" y2="486.75" stroke="#1e1e1e" stroke-width="0.9"/>
<text x="358.70" y="489.15" font-size="6.7" text-anchor="end" fill="#262626" font-weight="normal">0</text>
<line x1="451.00" y1="573.30" x2="451.00" y2="576.00" stroke="#1e1e1e" stroke-width="0.9"/>
<text x="451.00" y="585.10" font-size="6.7" text-anchor="middle" fill="#262626" font-weight="normal">1</text>
<line x1="361.90" y1="544.45" x2="364.60" y2="544.45" stroke="#1e1e1e" stroke-width="0.9"/>
<text x="358.70" y="546.85" font-size="6.7" text-anchor="end" fill="#262626" font-weight="normal">1</text>
<rect x="483.60" y="450.40" width="7.00" height="130.20" fill="url(#cb)" stroke="#585050" stroke-width="0.8"/>
<line x1="490.60" y1="565.65" x2="492.60" y2="565.65" stroke="#333" stroke-width="0.8"/>
<text x="496.00" y="567.95" font-size="6.25" text-anchor="start" fill="#222" font-weight="normal">10000</text>
<line x1="490.60" y1="549.48" x2="492.60" y2="549.48" stroke="#333" stroke-width="0.8"/>
<text x="496.00" y="551.78" font-size="6.25" text-anchor="start" fill="#222" font-weight="normal">20000</text>
<line x1="490.60" y1="533.31" x2="492.60" y2="533.31" stroke="#333" stroke-width="0.8"/>
<text x="496.00" y="535.61" font-size="6.25" text-anchor="start" fill="#222" font-weight="normal">30000</text>
<line x1="490.60" y1="517.14" x2="492.60" y2="517.14" stroke="#333" stroke-width="0.8"/>
<text x="496.00" y="519.44" font-size="6.25" text-anchor="start" fill="#222" font-weight="normal">40000</text>
<line x1="490.60" y1="500.97" x2="492.60" y2="500.97" stroke="#333" stroke-width="0.8"/>
<text x="496.00" y="503.27" font-size="6.25" text-anchor="start" fill="#222" font-weight="normal">50000</text>
<line x1="490.60" y1="484.79" x2="492.60" y2="484.79" stroke="#333" stroke-width="0.8"/>
<text x="496.00" y="487.09" font-size="6.25" text-anchor="start" fill="#222" font-weight="normal">60000</text>
<line x1="490.60" y1="468.62" x2="492.60" y2="468.62" stroke="#333" stroke-width="0.8"/>
<text x="496.00" y="470.92" font-size="6.25" text-anchor="start" fill="#222" font-weight="normal">70000</text>
<line x1="490.60" y1="452.45" x2="492.60" y2="452.45" stroke="#333" stroke-width="0.8"/>
<text x="496.00" y="454.75" font-size="6.25" text-anchor="start" fill="#222" font-weight="normal">80000</text>
<text x="355.00" y="428.80" font-size="12.2" text-anchor="start" fill="#111" font-weight="bold">I</text>
<text transform="translate(422.20 443.00) scale(0.9788 1)" x="0" y="0" font-size="9.1" text-anchor="middle" fill="#181818" font-weight="normal">All other clinics</text>
<text transform="translate(422.20 453.00) scale(0.9697 1)" x="0" y="0" font-size="9.1" text-anchor="middle" fill="#181818" font-weight="normal">and wards model</text>
<text x="0.00" y="0.00" font-size="8.8" text-anchor="middle" fill="#262626" font-weight="normal" transform="translate(14.2 515.7) rotate(-90) scale(0.7550 1)">True label</text>
<text transform="translate(254.50 596.80) scale(0.7730 1)" x="0" y="0" font-size="8.8" text-anchor="middle" fill="#262626" font-weight="normal">Predicted label</text>
</svg>
</body></html>
